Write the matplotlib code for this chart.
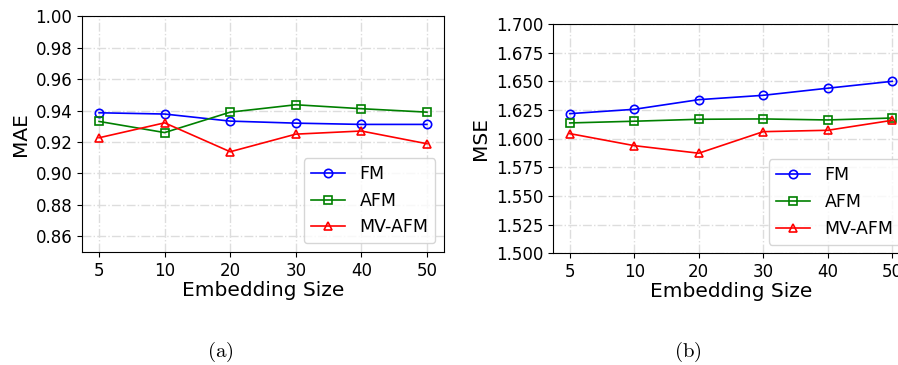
import matplotlib
matplotlib.use("Agg")
import matplotlib.pyplot as plt

sizes = ["5", "10", "20", "30", "40", "50"]

mae_fm = [0.9386, 0.9378, 0.9333, 0.9320, 0.9312, 0.9312]
mae_afm = [0.9331, 0.9260, 0.9390, 0.9437, 0.9412, 0.9390]
mae_mvafm = [0.9227, 0.9322, 0.9138, 0.9250, 0.9270, 0.9189]

mse_fm = [1.6218, 1.6256, 1.6340, 1.6378, 1.6440, 1.6500]
mse_afm = [1.6137, 1.6152, 1.6169, 1.6172, 1.6163, 1.6180]
mse_mvafm = [1.6044, 1.5939, 1.5873, 1.6061, 1.6073, 1.6160]

W, H = 898, 365
fig = plt.figure(figsize=(W / 100, H / 100), dpi=100)
ax1 = fig.add_axes([82 / W, (H - 252) / H, (444 - 82) / W, (252 - 16.3) / H])
ax2 = fig.add_axes([553 / W, (H - 253.3) / H, (909 - 553) / W, (253.3 - 24) / H])

styles = [("FM", "blue", "o"), ("AFM", "green", "s"), ("MV-AFM", "red", "^")]
x = list(range(len(sizes)))

for ax, data, ylab, ylim, ticks, fmt in [
    (ax1, [mae_fm, mae_afm, mae_mvafm], "MAE", (0.85, 1.00),
     [0.86 + 0.02 * i for i in range(8)], "{:.2f}"),
    (ax2, [mse_fm, mse_afm, mse_mvafm], "MSE", (1.5, 1.7),
     [1.5 + 0.025 * i for i in range(9)], "{:.3f}"),
]:
    for vals, (lab, col, mk) in zip(data, styles):
        ax.plot(x, vals, color=col, marker=mk, markerfacecolor="none",
                markersize=6, markeredgewidth=1.2, linewidth=1.2, label=lab)
    ax.set_xlim(-0.26, 5.26)
    ax.set_ylim(*ylim)
    ax.set_xticks(x)
    ax.set_xticklabels(sizes)
    ax.set_yticks(ticks)
    ax.set_yticklabels([fmt.format(t) for t in ticks])
    ax.tick_params(labelsize=12)
    ax.grid(True, linestyle="-.", color="#dddddd", linewidth=1)
    ax.set_xlabel("Embedding Size", fontsize=14.5, labelpad=1)
    ax.set_ylabel(ylab, fontsize=14.5)
    ax.legend(loc="lower right", fontsize=12.5)

fig.text(220 / W, 1 - 352 / H, r"$\mathrm{(a)}$", ha="center", va="center",
         fontsize=15, math_fontfamily="cm")
fig.text(688 / W, 1 - 352 / H, r"$\mathrm{(b)}$", ha="center", va="center",
         fontsize=15, math_fontfamily="cm")

fig.savefig("out.png", dpi=100)
